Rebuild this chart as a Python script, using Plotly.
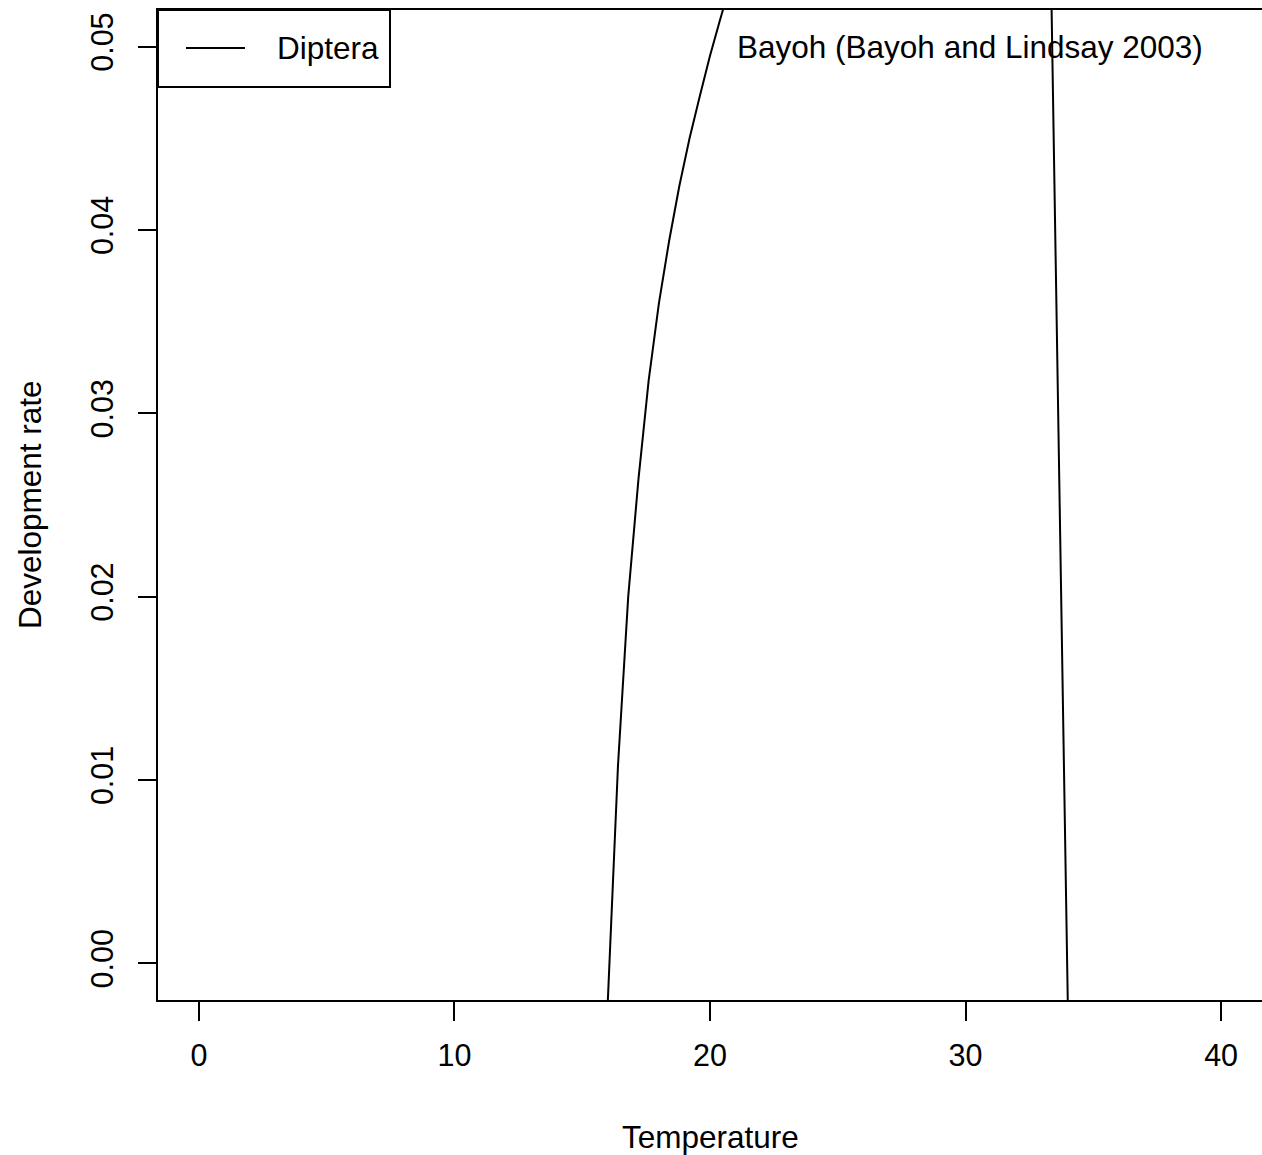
import plotly.graph_objects as go

# Temperature (°C) sample points of the development-rate curve
temperature = [15.6, 16.0, 16.4, 16.8, 17.2, 17.6, 18.0, 18.4, 18.8, 19.2, 19.6, 20.0, 20.4, 20.8,
               33.2, 33.6, 34.0, 34.4]
# Development rate (values outside the window are clipped)
dev_rate = [-0.0200, -0.0021, 0.0108, 0.0200, 0.0264, 0.0318, 0.0360, 0.0394, 0.0424, 0.0450,
            0.0473, 0.0495, 0.0515, 0.0534,
            0.0663, 0.0331, -0.0021, -0.0300]

x_ticks = [0, 10, 20, 30, 40]
y_ticks = [0.00, 0.01, 0.02, 0.03, 0.04, 0.05]
y_tick_labels = ["0.00", "0.01", "0.02", "0.03", "0.04", "0.05"]

legend_label = "Diptera"
note_text = "Bayoh (Bayoh and Lindsay 2003)"
x_title = "Temperature"
y_title = "Development rate"

FONT = "Liberation Sans, Arial, Helvetica, sans-serif"
FS = 31.5
TFS = 30.5

fig = go.Figure()
fig.add_trace(go.Scatter(x=temperature, y=dev_rate, mode="lines",
                         line=dict(color="black", width=2), name=legend_label,
                         showlegend=False))

W, H = 1262, 1155
L, R, T, B = 158, 0, 10, 155
pw, ph = W - L - R, H - T - B

fig.update_layout(
    width=W, height=H,
    margin=dict(l=L, r=R, t=T, b=B, autoexpand=False),
    paper_bgcolor="white", plot_bgcolor="white",
    font=dict(family=FONT, size=FS, color="black"),
    xaxis=dict(range=[-1.6, 41.6], tickvals=x_ticks, ticktext=[str(v) for v in x_ticks],
               showgrid=False, zeroline=False, showline=True, linecolor="black",
               linewidth=2, mirror=True, ticks="outside", ticklen=19, tickwidth=2,
               tickcolor="black", ticklabelstandoff=8,
               tickfont=dict(family=FONT, size=TFS)),
    yaxis=dict(range=[-0.002, 0.052], tickvals=y_ticks, ticktext=y_tick_labels,
               showgrid=False, zeroline=False, showline=True, linecolor="black",
               linewidth=2, mirror=False, ticks="outside", ticklen=18, tickwidth=2,
               tickcolor="black", tickangle=-90, ticklabelstandoff=13,
               tickfont=dict(family=FONT, size=TFS)),
)

# axis titles
fig.add_annotation(text=x_title, xref="paper", yref="paper", x=0.5, y=-137 / ph,
                   xanchor="center", yanchor="middle", showarrow=False,
                   font=dict(family=FONT, size=FS))
fig.add_annotation(text=y_title, xref="paper", yref="paper", x=-128 / pw, y=0.5,
                   xanchor="center", yanchor="middle", textangle=-90, showarrow=False,
                   font=dict(family=FONT, size=FS))

# legend box (top-left)
lx0, lx1 = 0, (390 - L) / pw
ly1, ly0 = 1, 1 - (87 - T) / ph
fig.add_shape(type="rect", xref="paper", yref="paper", x0=lx0, x1=lx1, y0=ly0, y1=ly1,
              line=dict(color="black", width=2), fillcolor="white")
ymid = 1 - (48 - T) / ph
fig.add_shape(type="line", xref="paper", yref="paper", x0=(186 - L) / pw, x1=(245 - L) / pw,
              y0=ymid, y1=ymid, line=dict(color="black", width=2))
fig.add_annotation(text=legend_label, xref="paper", yref="paper", x=(275 - L) / pw, y=ymid,
                   xanchor="left", yanchor="middle", showarrow=False,
                   font=dict(family=FONT, size=FS))

# text note
fig.add_annotation(text=note_text, xref="x", yref="y", x=(735 - 199) / 25.55, y=0.05,
                   xanchor="left", yanchor="middle", showarrow=False,
                   font=dict(family=FONT, size=FS))

fig.write_html("out.html", config={"displayModeBar": False},
               post_script="document.body.style.margin='0';document.body.style.overflow='hidden';")
